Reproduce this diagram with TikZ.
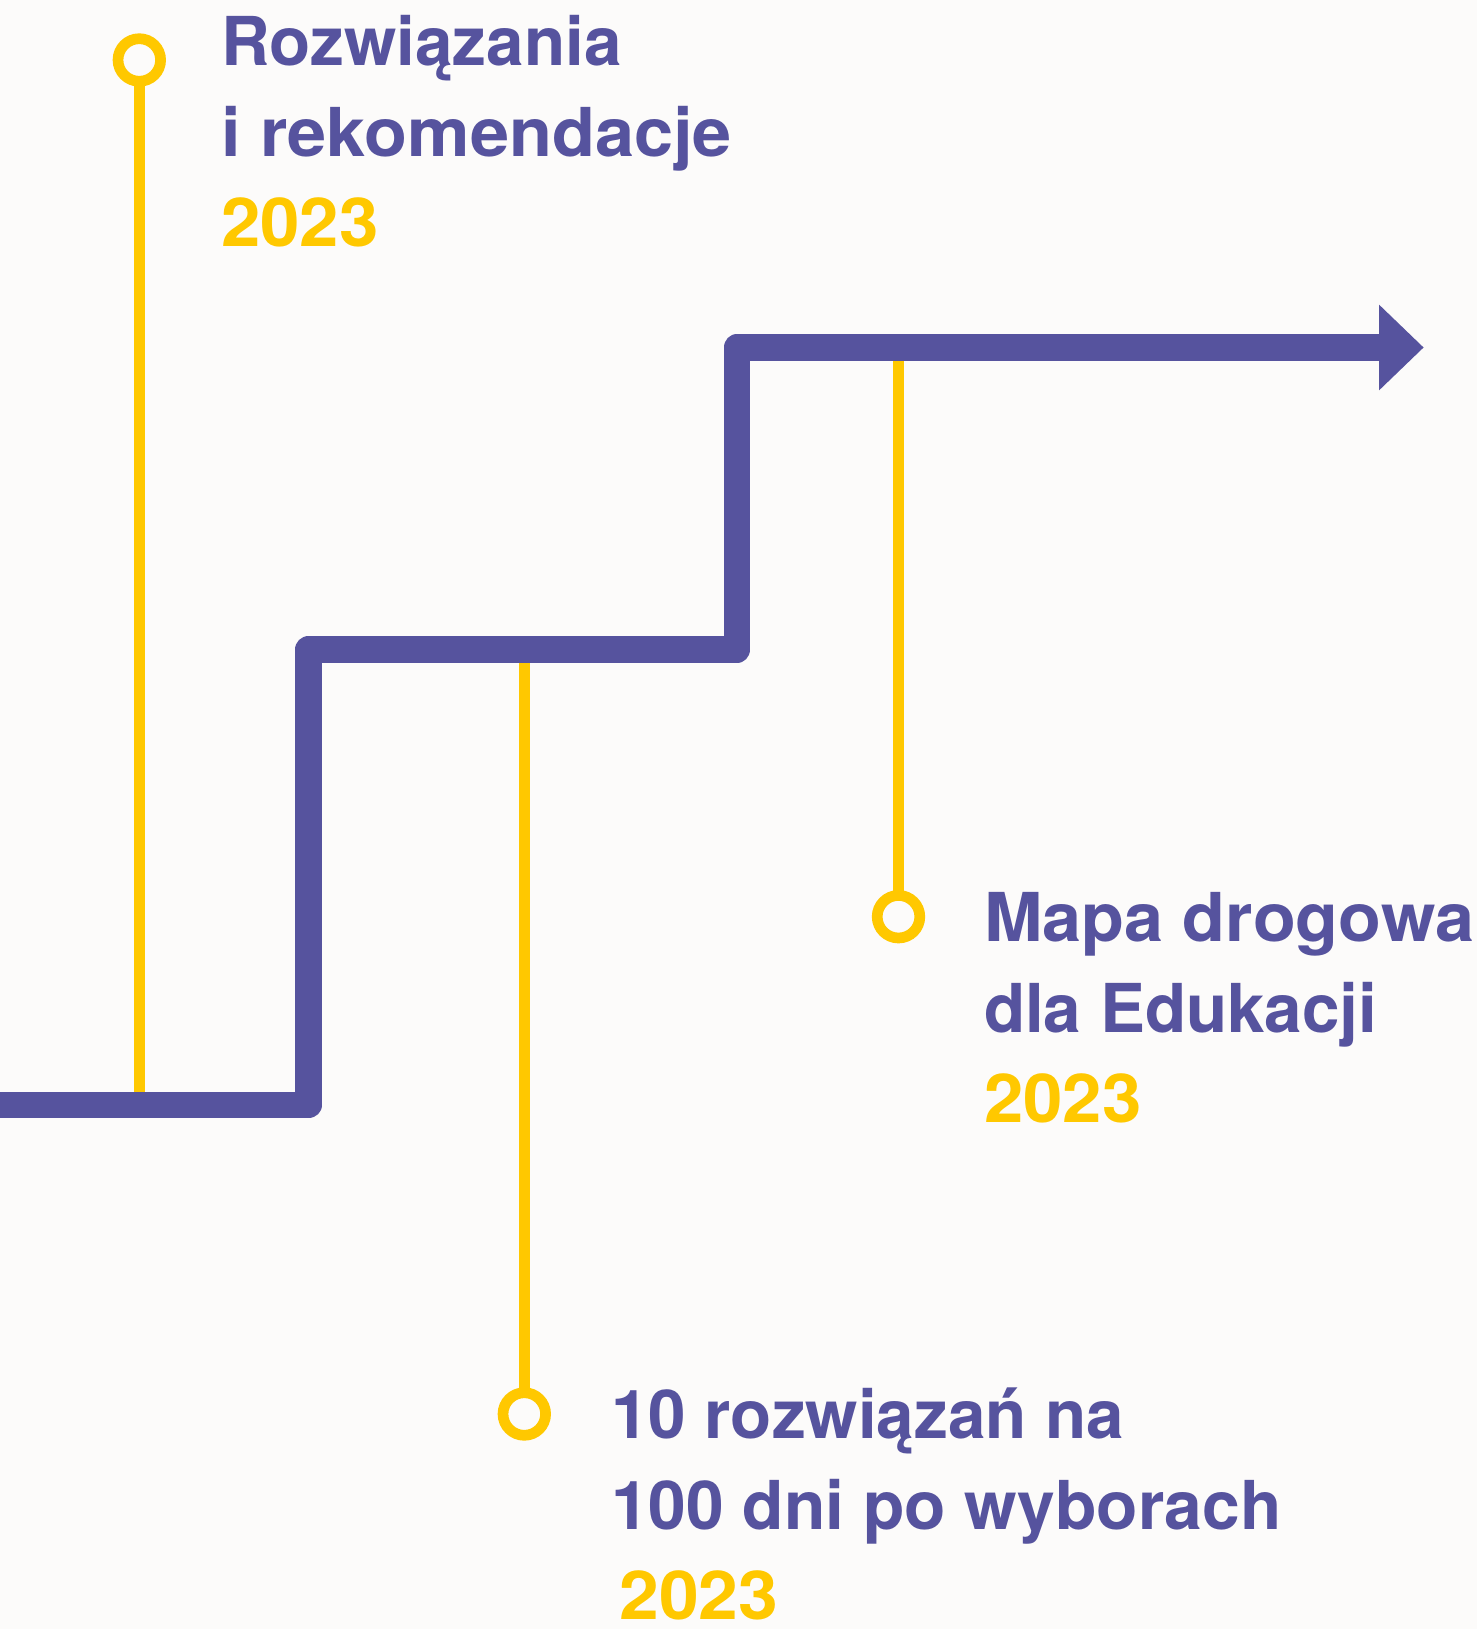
\documentclass[tikz,border=0pt]{standalone}
\usepackage{fontspec}
\setmainfont{TeX Gyre Heros}
\usepackage{graphicx}
\usetikzlibrary{arrows.meta}
\definecolor{purp}{RGB}{86,83,158}
\definecolor{yel}{RGB}{255,200,0}
\definecolor{bgc}{RGB}{252,251,250}
\newcommand{\sx}[2]{\scalebox{#1}[1]{#2}}
\newcommand{\blocktxt}[4]{\vtop{\baselineskip=90.5pt\lineskiplimit=-1000pt\lineskip=0pt
  \hbox{\color{purp}#1}\hbox{\color{purp}#2}\hbox{\kern#3\color{yel}#4}}}
\tikzset{
  stairline/.style={draw=purp, line width=26.7pt, line join=round, line cap=butt},
  stemline/.style={draw=yel, line width=10.7pt},
  ring/.style={circle, draw=yel, line width=10.7pt, minimum size=42.6pt, inner sep=0pt, outer sep=0pt},
  lbl/.style={anchor=base west, inner sep=0pt, outer sep=0pt,
    font=\fontsize{67.4}{90.5}\selectfont\bfseries}
}
\begin{document}
\begin{tikzpicture}[x=1pt,y=-1pt]
\fill[bgc] (0,0) rectangle (1477,1629);
\useasboundingbox (0,0) rectangle (1477,1629);
% stair coordinates
\coordinate (s0) at (-5,1105);
\coordinate (s1) at (308.5,1105);
\coordinate (s2) at (308.5,649.5);
\coordinate (s3) at (737,649.5);
\coordinate (s4) at (737,347.5);
\coordinate (s5) at (1423.7,347.5);
% stem anchors on the stair
\coordinate (p1) at (139.3,1105);
\coordinate (p2) at (524.3,649.5);
\coordinate (p3) at (898.5,347.5);
% rings
\node[ring] (c1) at (139.3,60) {};
\node[ring] (c2) at (524.3,1414) {};
\node[ring] (c3) at (898.5,916.7) {};
% stems
\draw[stemline] (c1.south) -- (p1);
\draw[stemline] (p2) -- (c2.north);
\draw[stemline] (p3) -- (c3.north);
% stair with arrow
\draw[stairline, -{Triangle[length=44.7pt,width=83pt]}] (s0) -- (s1) -- (s2) -- (s3) -- (s4) -- (s5);
% labels
\node[lbl] (t1) at (221,65.7) {\blocktxt{Rozwiązania}{\sx{1.043}{i rekomendacje}}{0pt}{\sx{1.05}{2023}}};
\node[lbl] (t2) at (984,941.7) {\blocktxt{\sx{1.041}{Mapa drogowa}}{dla Edukacji}{0pt}{\sx{1.05}{2023}}};
\node[lbl] (t3) at (611,1438.6) {\blocktxt{10 rozwiązań na}{\sx{1.005}{100 dni po wyborach}}{8.3pt}{\sx{1.06}{2023}}};
\end{tikzpicture}
\end{document}
